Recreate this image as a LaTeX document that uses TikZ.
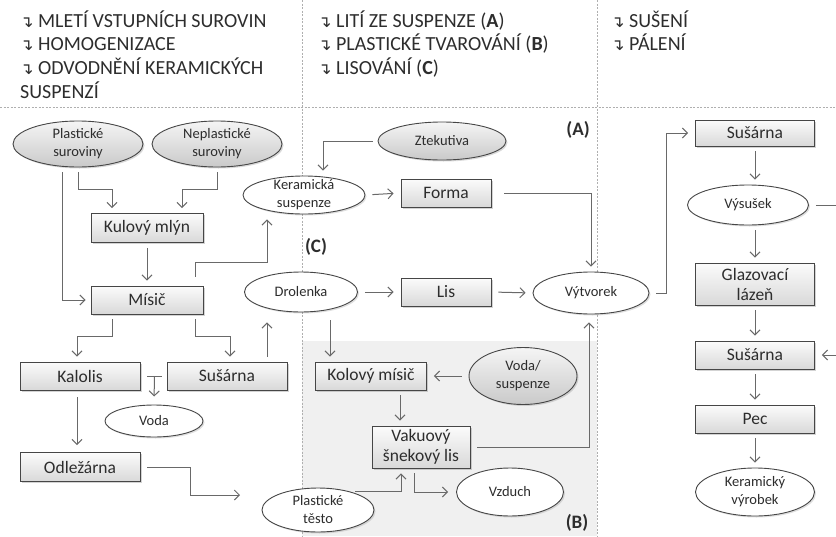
\documentclass[tikz,border=0pt]{standalone}
\usepackage{fontspec}
\setmainfont{Carlito}
\newfontfamily\arrowfont{DejaVu Sans}
\usetikzlibrary{shapes.geometric,arrows.meta,shadows}

\definecolor{boxline}{RGB}{70,70,70}
\definecolor{arrowgray}{RGB}{105,105,105}
\definecolor{sepgray}{RGB}{175,175,175}
\definecolor{zoneb}{RGB}{240,240,240}
\definecolor{inktext}{RGB}{45,45,45}

\newcommand{\hbul}{{\arrowfont\fontsize{16}{16}\selectfont ↴}}

\tikzset{
  machinebox/.style 2 args={rectangle, draw=boxline, line width=0.9pt,
    top color=gray!3, bottom color=gray!30, minimum width=#1, minimum height=#2,
    inner sep=0pt, align=center, text=inktext, font=\fontsize{17.5}{20}\selectfont,
    drop shadow={shadow xshift=1.5pt, shadow yshift=-1.5pt, opacity=0.35}},
  inputell/.style 2 args={ellipse, draw=boxline, line width=0.9pt,
    top color=gray!8, bottom color=gray!42, minimum width=#1, minimum height=#2,
    inner xsep=0pt, inner ysep=-5pt, align=center, text=inktext,
    font=\fontsize{14.5}{18}\selectfont,
    drop shadow={shadow xshift=1.5pt, shadow yshift=-1.5pt, opacity=0.3}},
  stuffell/.style 2 args={ellipse, draw=boxline, line width=0.9pt, fill=white,
    minimum width=#1, minimum height=#2,
    inner xsep=0pt, inner ysep=-5pt, align=center, text=inktext,
    font=\fontsize{14.5}{18}\selectfont,
    drop shadow={shadow xshift=1.5pt, shadow yshift=-1.5pt, opacity=0.25}},
  flow/.style={draw=arrowgray, line width=1pt, -{Straight Barb[length=5pt,width=10pt]},
    shorten <=5pt, shorten >=5pt},
  h/.style={shorten <=7pt, shorten >=7pt},
  plain/.style={draw=arrowgray, line width=1pt},
  sep/.style={draw=sepgray, line width=0.8pt, dash pattern=on 2pt off 1.5pt},
  head/.style={anchor=base west, text=inktext, font=\fontsize{20}{24}\selectfont, inner sep=0pt},
  zone/.style={text=inktext, font=\bfseries\fontsize{19}{19}\selectfont, inner sep=0pt}
}

\begin{document}
\begin{tikzpicture}[x=1pt,y=-1pt]
  \useasboundingbox (0,0) rectangle (836,536);
  \fill[zoneb] (302,341) rectangle (597,536);
  \draw[sep] (0,107) -- (836,107);
  \draw[sep] (302,0) -- (302,536);
  \draw[sep] (597,0) -- (597,536);

  % headings
  \node[head] (h1) at (20,27) {\hbul\ MLETÍ VSTUPNÍCH SUROVIN};
  \node[head] (h2) at (20,50.5) {\hbul\ HOMOGENIZACE};
  \node[head] (h3) at (20,74) {\hbul\ ODVODNĚNÍ KERAMICKÝCH};
  \node[head] (h4) at (20,98) {SUSPENZÍ};
  \node[head] (h5) at (318,27) {\hbul\ LITÍ ZE SUSPENZE (\textbf{A})};
  \node[head] (h6) at (318,50.5) {\hbul\ PLASTICKÉ TVAROVÁNÍ (\textbf{B})};
  \node[head] (h7) at (318,74) {\hbul\ LISOVÁNÍ (\textbf{C})};
  \node[head] (h8) at (611,27) {\hbul\ SUŠENÍ};
  \node[head] (h9) at (611,50.5) {\hbul\ PÁLENÍ};

  \node[zone] (labA) at (578,130) {(A)};
  \node[zone] (labB) at (577,523) {(B)};
  \node[zone] (labC) at (316,247) {(C)};

  % raw materials
  \node[inputell={130pt}{46pt}] (plast) at (78,144) {Plastické\\suroviny};
  \node[inputell={130pt}{46pt}] (neplast) at (217,144) {Neplastické\\suroviny};
  \node[inputell={128pt}{38pt}] (ztek) at (442,141) {Ztekutiva};
  \node[inputell={108pt}{57pt}] (vodasusp) at (523,376) {Voda/\\suspenze};

  % machines
  \node[machinebox={112pt}{29pt}] (kulovy) at (147,228) {Kulový mlýn};
  \node[machinebox={112pt}{28pt}] (misic) at (147,300) {Mísič};
  \node[machinebox={120pt}{28pt}] (kalolis) at (80,376) {Kalolis};
  \node[machinebox={120pt}{28pt}] (susarnaA) at (227,376) {Sušárna};
  \node[machinebox={120pt}{29pt}] (odlezarna) at (80,467) {Odležárna};
  \node[machinebox={90pt}{28pt}] (forma) at (446,193) {Forma};
  \node[machinebox={90pt}{28pt}] (lis) at (446,292) {Lis};
  \node[machinebox={111pt}{28pt}] (kolovy) at (371,376) {Kolový mísič};
  \node[machinebox={98pt}{42pt}] (vakuovy) at (421,447) {Vakuový\\šnekový lis};
  \node[machinebox={119pt}{26pt}] (susarnaB) at (755,133) {Sušárna};
  \node[machinebox={119pt}{42pt}] (glazovaci) at (755,284) {Glazovací\\lázeň};
  \node[machinebox={119pt}{28pt}] (susarnaC) at (755,355) {Sušárna};
  \node[machinebox={119pt}{28pt}] (pec) at (755,419) {Pec};

  % intermediate products
  \node[stuffell={122pt}{38pt}] (keramsusp) at (304,195) {Keramická\\suspenze};
  \node[stuffell={113pt}{40pt}] (drolenka) at (301,292) {Drolenka};
  \node[stuffell={116pt}{42pt}] (vytvorek) at (591,293) {Výtvorek};
  \node[stuffell={121pt}{40pt}] (vysusek) at (748,205) {Výsušek};
  \node[stuffell={112pt}{44pt}] (plasttesto) at (318,510) {Plastické\\těsto};
  \node[stuffell={107pt}{48pt}] (vzduch) at (510,492) {Vzduch};
  \node[stuffell={98pt}{32pt}] (voda) at (154,421) {Voda};
  \node[stuffell={119pt}{48pt}] (vyrobek) at (755,492) {Keramický\\výrobek};

  \coordinate (rim) at (842,205);
  \coordinate (testoin) at (240,495);

  \begin{scope}[flow]
    \draw ([xshift=-16pt]plast.south) |- (misic.west);
    \draw (plast.south) -- ++(0,22) -| ([xshift=-35pt]kulovy.north);
    \draw (neplast.south) -- ++(0,22) -| ([xshift=35pt]kulovy.north);
    \draw (kulovy.south) -- (misic.north);
    \draw[shorten <=9pt] ([xshift=48pt]misic.north) -- ++(0,-23) -| ([xshift=-37pt]keramsusp.south);
    \draw (ztek.west) -| ([xshift=19pt]keramsusp.north);
    \draw[h] (keramsusp.east) -- (forma.west);
    \draw[shorten <=13pt] (forma.east) -| (vytvorek.north);
    \draw[h] (drolenka.east) -- (lis.west);
    \draw[h] (lis.east) -- (vytvorek.west);
    \draw[h] (vytvorek.east) -- ++(17,0) |- (susarnaB.west);
    \draw (susarnaB.south) -- (susarnaB.south |- vysusek.north);
    \draw (vysusek.south -| glazovaci.north) -- (glazovaci.north);
    \draw (glazovaci.south) -- (susarnaC.north);
    \draw (susarnaC.south) -- (pec.north);
    \draw (pec.south) -- (vyrobek.north);
    \draw[h] (vysusek.east) -- (rim) |- (susarnaC.east);
    \draw ([xshift=-35pt]misic.south) -- ++(0,22) -| ([xshift=-3pt]kalolis.north);
    \draw ([xshift=48pt]misic.south) -- ++(0,22) -| ([xshift=3pt]susarnaA.north);
    \draw[shorten >=10pt] ([xshift=40pt]susarnaA.north) -- ([xshift=40pt]susarnaA.north |- drolenka.south);
    \draw[shorten <=8pt] ([xshift=-41pt]kolovy.north |- drolenka.south) -- ([xshift=-41pt]kolovy.north);
    \draw[shorten <=0pt, shorten >=8pt] ([xshift=14pt]kalolis.east) -- (voda.north);
    \draw[h] ([xshift=-3pt]kalolis.south) -- ([xshift=-3pt]odlezarna.north);
    \draw[shorten <=7pt, shorten >=0pt] (odlezarna.east) -- ++(50,0) |- (testoin);
    \draw (plasttesto.30) -| ([xshift=-20pt]vakuovy.south);
    \draw[shorten >=8pt] ([xshift=-7pt]vakuovy.south) |- (vzduch.west);
    \draw ([xshift=29pt]kolovy.south) -- ([xshift=-21pt]vakuovy.north);
    \draw[h] (vodasusp.west) -- (kolovy.east);
    \draw[shorten <=7pt, shorten >=8pt] (vakuovy.east) -| ([xshift=-2pt]vytvorek.south);
  \end{scope}
  \draw[plain] ([xshift=7pt]kalolis.east) -- ([xshift=22pt]kalolis.east);
\end{tikzpicture}
\end{document}
